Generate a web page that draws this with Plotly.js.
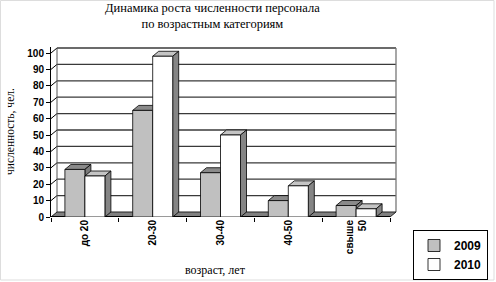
<!DOCTYPE html>
<html>
<head>
<meta charset="utf-8">
<script src="https://cdn.plot.ly/plotly-3.0.1.min.js"></script>
<style>html,body{margin:0;padding:0;background:#fff;}#chart{width:496px;height:282px;}</style>
</head>
<body>
<div id="chart"></div>
<script>
// ---- data ----
const categories = ['до 20', '20-30', '30-40', '40-50', 'свыше<br>50'];
const seriesNames = ['2009', '2010'];
const values2009 = [29, 65, 27, 10, 7];
const values2010 = [25, 98, 50, 19, 5];
const yTickValues = [0, 10, 20, 30, 40, 50, 60, 70, 80, 90, 100];
const chartTitle = 'Динамика роста численности персонала<br>по возрастным категориям';
const yTitle = 'численность, чел.';
const xTitle = 'возраст, лет';

// ---- geometry ----
const W = 496, H = 282;
const ml = 51, plotW = 346, mt = 47, plotH = 170;
const mr = W - ml - plotW, mb = H - mt - plotH;
const pxPerX = 67.8, pxPerY = 1.64;
const xRange = [-0.5, -0.5 + plotW / pxPerX];
const yRange = [0, plotH / pxPerY];
const dx = 6 / pxPerX, dy = 5 / pxPerY;
const bw = 20 / pxPerX;
const nCat = categories.length;
const xIdx = categories.map((c, i) => i);
const yMax = yTickValues[yTickValues.length - 1];

const px2paperX = p => (p - ml) / plotW;
const px2paperY = p => (mt + plotH - p) / plotH;

const shapes = [];
const xL = -0.5, xR = nCat - 0.5;
// back wall gridlines
yTickValues.forEach(v => {
  if (v === 0) return;
  shapes.push({type: 'line', xref: 'x', yref: 'y', layer: 'below',
    x0: xL + dx, x1: xR + dx, y0: v + dy, y1: v + dy,
    line: {color: '#3a3a3a', width: 1.3}});
  shapes.push({type: 'line', xref: 'x', yref: 'y', layer: 'below',
    x0: xL, x1: xL + dx, y0: v, y1: v + dy,
    line: {color: '#000', width: 1}});
});
// back wall side edges
shapes.push({type: 'line', xref: 'x', yref: 'y', layer: 'below',
  x0: xL + dx, x1: xL + dx, y0: dy, y1: yMax + dy, line: {color: '#555', width: 1}});
shapes.push({type: 'line', xref: 'x', yref: 'y', layer: 'below',
  x0: xR + dx, x1: xR + dx, y0: dy, y1: yMax + dy, line: {color: '#777', width: 1.3}});
// floor
shapes.push({type: 'path', xref: 'x', yref: 'y', layer: 'below',
  path: `M${xL},0 L${xR},0 L${xR + dx},${dy} L${xL + dx},${dy} Z`,
  fillcolor: '#808080', line: {color: '#222', width: 1}});
shapes.push({type: 'line', xref: 'x', yref: 'y', layer: 'below',
  x0: xL, x1: xR, y0: 0, y1: 0, line: {color: '#000', width: 2}});

function barFaces(l, r, h, topColor, sideColor) {
  shapes.push({type: 'path', xref: 'x', yref: 'y', layer: 'below',
    path: `M${l},${h} L${r},${h} L${r + dx},${h + dy} L${l + dx},${h + dy} Z`,
    fillcolor: topColor, line: {color: '#000', width: 0.8}});
  shapes.push({type: 'path', xref: 'x', yref: 'y', layer: 'below',
    path: `M${r},0 L${r + dx},${dy} L${r + dx},${h + dy} L${r},${h} Z`,
    fillcolor: sideColor, line: {color: '#000', width: 0.8}});
}
xIdx.forEach(i => {
  barFaces(i - bw, i, values2009[i], '#8a8a8a', '#7a7a7a');
  barFaces(i, i + bw, values2010[i], '#c4c4c4', '#858585');
});

// outer faint frame
shapes.push({type: 'rect', xref: 'paper', yref: 'paper',
  x0: px2paperX(0.5), x1: px2paperX(494), y0: px2paperY(280), y1: px2paperY(0.5),
  line: {color: '#dddddd', width: 1}, fillcolor: 'rgba(0,0,0,0)'});

const traces = [
  {type: 'bar', name: seriesNames[0], x: xIdx, y: values2009, width: bw, offset: -bw,
   marker: {color: '#c0c0c0', line: {color: '#000', width: 0.8}}, hoverinfo: 'none'},
  {type: 'bar', name: seriesNames[1], x: xIdx, y: values2010, width: bw, offset: 0,
   marker: {color: '#ffffff', line: {color: '#000', width: 0.8}}, hoverinfo: 'none'},
  {type: 'scatter', x: [0], y: [0], xaxis: 'x2', showlegend: false, hoverinfo: 'none',
   mode: 'markers', marker: {opacity: 0}}
];

const boundaryTicks = [];
for (let i = 0; i <= nCat; i++) boundaryTicks.push(i - 0.5);

const layout = {
  width: W, height: H,
  margin: {l: ml, r: mr, t: mt, b: mb, pad: 0, autoexpand: false},
  paper_bgcolor: '#fff', plot_bgcolor: 'rgba(0,0,0,0)',
  barmode: 'group',
  showlegend: true,
  legend: {xref: 'container', yref: 'container', x: 413 / W, y: 1 - 230 / H,
    xanchor: 'left', yanchor: 'top',
    bordercolor: '#000', borderwidth: 1, bgcolor: '#fff',
    font: {family: 'Liberation Sans, Arial, sans-serif', size: 12, color: '#000', weight: 'bold'},
    itemwidth: 30, tracegroupgap: 0},
  xaxis: {type: 'linear', range: xRange, tickmode: 'array', tickvals: xIdx, ticktext: categories,
    tickangle: -90, ticks: '', showgrid: false, zeroline: false, showline: false, automargin: false,
    tickfont: {family: 'Liberation Sans, Arial, sans-serif', size: 10, color: '#000', weight: 'bold'}},
  xaxis2: {overlaying: 'x', anchor: 'y', side: 'bottom', range: xRange, tickmode: 'array',
    tickvals: boundaryTicks, ticktext: boundaryTicks.map(() => ''), ticks: 'outside', automargin: false,
    ticklen: 4, tickcolor: '#000', tickwidth: 1, showgrid: false, zeroline: false, showline: false},
  yaxis: {range: yRange, tickmode: 'array', tickvals: yTickValues, ticks: 'outside', automargin: false,
    ticklen: 4, tickcolor: '#000', showgrid: false, zeroline: false,
    showline: true, linecolor: '#000', linewidth: 1,
    tickfont: {family: 'Liberation Sans, Arial, sans-serif', size: 10, color: '#000', weight: 'bold'}},
  shapes: shapes,
  annotations: [
    {text: chartTitle, xref: 'paper', yref: 'paper', x: px2paperX(212), y: px2paperY(16),
     xanchor: 'center', yanchor: 'middle', showarrow: false,
     font: {family: 'Liberation Serif, Times New Roman, serif', size: 12.5, color: '#000'}},
    {text: yTitle, xref: 'paper', yref: 'paper', x: px2paperX(10), y: px2paperY(132),
     xanchor: 'center', yanchor: 'middle', showarrow: false, textangle: -90,
     font: {family: 'Liberation Serif, Times New Roman, serif', size: 11.5, color: '#000'}},
    {text: xTitle, xref: 'paper', yref: 'paper', x: px2paperX(215), y: px2paperY(270),
     xanchor: 'center', yanchor: 'middle', showarrow: false,
     font: {family: 'Liberation Serif, Times New Roman, serif', size: 12, color: '#000'}}
  ]
};

Plotly.newPlot('chart', traces, layout, {staticPlot: true, displayModeBar: false});
</script>
</body>
</html>
